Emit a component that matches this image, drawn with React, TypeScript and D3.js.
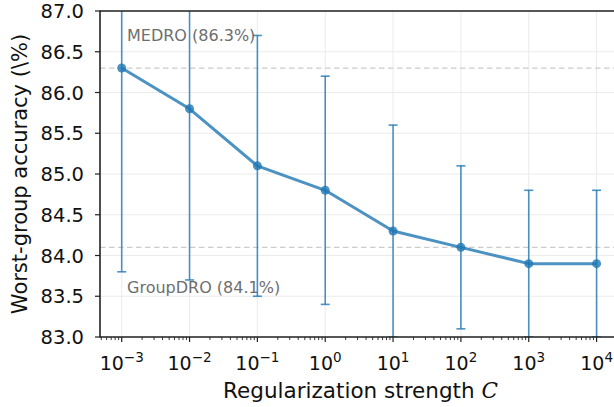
import { useEffect, useRef } from 'react';
import * as d3 from 'd3';

// regularization strength C and worst-group accuracy (%)
const strengths = [1e-3, 1e-2, 1e-1, 1e0, 1e1, 1e2, 1e3, 1e4];
const accuracy = [86.3, 85.8, 85.1, 84.8, 84.3, 84.1, 83.9, 83.9];
const errLow = [2.5, 2.1, 1.6, 1.4, 1.3, 1.0, 0.9, 0.9];
const errHigh = [2.5, 2.1, 1.6, 1.4, 1.3, 1.0, 0.9, 0.9];
const baselines = [
  { name: 'MEDRO', value: 86.3 },
  { name: 'GroupDRO', value: 84.1 },
];
const yTicks = [83.0, 83.5, 84.0, 84.5, 85.0, 85.5, 86.0, 86.5, 87.0];
const xExponents = [-3, -2, -1, 0, 1, 2, 3, 4];

const W = 614;
const H = 407;
const C0 = '#1f77b4';
const FONT = 'DejaVu Sans, sans-serif';

const App = () => {
  const ref = useRef<SVGSVGElement>(null);

  useEffect(() => {
    const left = 100, top = 11, bottom = 337, right = 621;

    const x = d3.scaleLog()
      .domain([Math.pow(10, -3.32), Math.pow(10, 4.36)])
      .range([left, right]);
    const y = d3.scaleLinear().domain([83, 87]).range([bottom, top]);

    const svg = d3.select(ref.current);
    svg.selectAll('*').remove();

    svg.append('defs').append('clipPath').attr('id', 'plot')
      .append('rect')
      .attr('x', left).attr('y', top)
      .attr('width', right - left).attr('height', bottom - top);

    // grid
    const grid = svg.append('g');
    grid.selectAll('line.gy').data(yTicks).enter().append('line')
      .attr('x1', left).attr('x2', right)
      .attr('y1', d => y(d)).attr('y2', d => y(d))
      .attr('stroke', '#ebebeb').attr('stroke-width', 1);
    grid.selectAll('line.gx').data(xExponents).enter().append('line')
      .attr('x1', d => x(Math.pow(10, d))).attr('x2', d => x(Math.pow(10, d)))
      .attr('y1', top).attr('y2', bottom)
      .attr('stroke', '#ebebeb').attr('stroke-width', 1);

    // baselines
    svg.append('g').selectAll('line').data(baselines).enter().append('line')
      .attr('x1', left).attr('x2', right)
      .attr('y1', d => y(d.value)).attr('y2', d => y(d.value))
      .attr('stroke', '#cccccc').attr('stroke-width', 1.3)
      .attr('stroke-dasharray', '5.5,3.5');

    const labelOffsets = [-27, 46];
    svg.append('g').selectAll('text').data(baselines).enter().append('text')
      .attr('x', 127)
      .attr('y', (d, i) => y(d.value) + labelOffsets[i])
      .attr('font-family', FONT).attr('font-size', 16)
      .attr('fill', '#6e6e6e')
      .text(d => `${d.name} (${d.value.toFixed(1)}%)`);

    const plot = svg.append('g').attr('clip-path', 'url(#plot)');

    // error bars
    const eb = plot.append('g').attr('stroke', C0).attr('stroke-opacity', 0.8).attr('stroke-width', 1.6);
    strengths.forEach((s, i) => {
      const cx = x(s);
      const lo = y(accuracy[i] - errLow[i]);
      const hi = y(accuracy[i] + errHigh[i]);
      eb.append('line').attr('x1', cx).attr('x2', cx).attr('y1', lo).attr('y2', hi);
      eb.append('line').attr('x1', cx - 4.5).attr('x2', cx + 4.5).attr('y1', lo).attr('y2', lo);
      eb.append('line').attr('x1', cx - 4.5).attr('x2', cx + 4.5).attr('y1', hi).attr('y2', hi);
    });

    const line = d3.line<number>()
      .x((d, i) => x(strengths[i]))
      .y(d => y(d));

    plot.append('path')
      .datum(accuracy)
      .attr('fill', 'none')
      .attr('stroke', C0).attr('stroke-opacity', 0.8)
      .attr('stroke-width', 3)
      .attr('stroke-linejoin', 'round')
      .attr('d', line);

    plot.append('g').selectAll('circle').data(accuracy).enter().append('circle')
      .attr('cx', (d, i) => x(strengths[i]))
      .attr('cy', d => y(d))
      .attr('r', 4.5)
      .attr('fill', C0).attr('fill-opacity', 0.8);

    // spines
    svg.append('line').attr('x1', left).attr('x2', left).attr('y1', top - 0.6).attr('y2', bottom + 0.6)
      .attr('stroke', '#222').attr('stroke-width', 1.6);
    svg.append('line').attr('x1', left).attr('x2', right).attr('y1', bottom).attr('y2', bottom)
      .attr('stroke', '#222').attr('stroke-width', 1.6);
    svg.append('line').attr('x1', left).attr('x2', right).attr('y1', top).attr('y2', top)
      .attr('stroke', '#222').attr('stroke-width', 1.6);

    // y ticks
    const yt = svg.append('g');
    yTicks.forEach(t => {
      yt.append('line').attr('x1', left - 5).attr('x2', left).attr('y1', y(t)).attr('y2', y(t))
        .attr('stroke', '#222').attr('stroke-width', 1.2);
      yt.append('text').attr('x', left - 16).attr('y', y(t)).attr('dy', '0.36em')
        .attr('text-anchor', 'end')
        .attr('font-family', FONT).attr('font-size', 19.5).attr('fill', '#111')
        .text(t.toFixed(1));
    });

    // x ticks (major + minor)
    const xt = svg.append('g');
    const [d0, d1] = x.domain();
    for (let e = -4; e <= 5; e++) {
      for (let m = 2; m <= 9; m++) {
        const v = m * Math.pow(10, e);
        if (v < d0 || v > d1) continue;
        xt.append('line').attr('x1', x(v)).attr('x2', x(v)).attr('y1', bottom).attr('y2', bottom + 3)
          .attr('stroke', '#222').attr('stroke-width', 0.9);
      }
    }
    xExponents.forEach(e => {
      const cx = x(Math.pow(10, e));
      xt.append('line').attr('x1', cx).attr('x2', cx).attr('y1', bottom).attr('y2', bottom + 5)
        .attr('stroke', '#222').attr('stroke-width', 1.2);
      const t = xt.append('text').attr('x', cx).attr('y', 370)
        .attr('text-anchor', 'middle')
        .attr('font-family', FONT).attr('font-size', 19).attr('fill', '#111');
      t.append('tspan').text('10');
      t.append('tspan').attr('font-size', 13.5).attr('dy', -8)
        .text(e < 0 ? `\u2212${-e}` : `${e}`);
    });

    // axis labels
    const xl = svg.append('text')
      .attr('x', (left + right) / 2).attr('y', 398)
      .attr('text-anchor', 'middle')
      .attr('font-family', FONT).attr('font-size', 21.5).attr('fill', '#111');
    xl.append('tspan').text('Regularization strength ');
    xl.append('tspan').attr('font-style', 'italic').attr('font-family', 'DejaVu Serif, serif').text('C');

    svg.append('text')
      .attr('transform', `translate(27, ${(top + bottom) / 2}) rotate(-90)`)
      .attr('text-anchor', 'middle')
      .attr('font-family', FONT).attr('font-size', 21).attr('fill', '#111')
      .text('Worst-group accuracy (\\%)');
  }, []);

  return (
    <svg ref={ref} width={W} height={H}
      style={{ position: 'absolute', left: 0, top: 0, background: '#fff' }} />
  );
};

export default App;
